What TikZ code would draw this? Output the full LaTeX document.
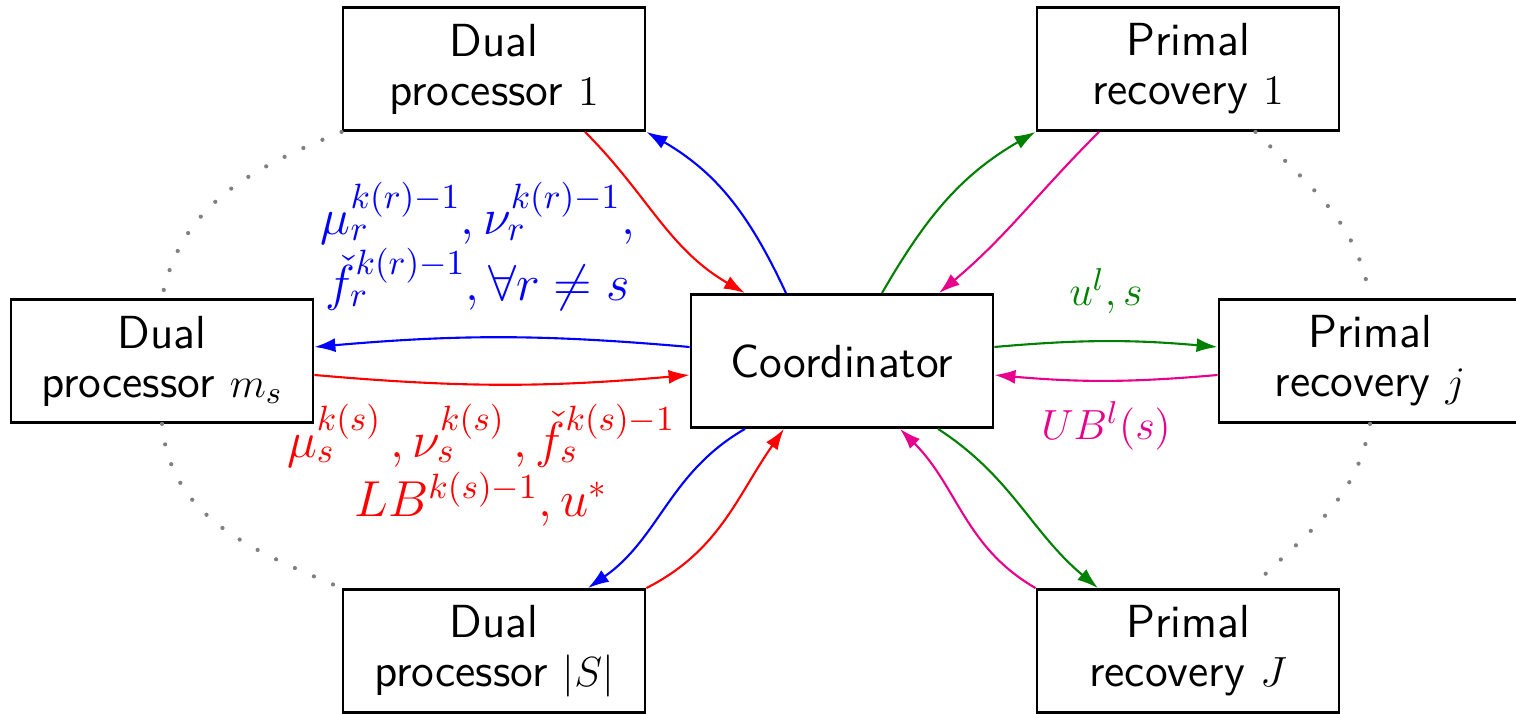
\documentclass[12pt,tikz,border=0pt]{standalone}
\usepackage{amssymb,amsmath}
\usepackage{xcolor}
\usetikzlibrary{arrows.meta}
\definecolor{msgpink}{RGB}{232,0,140}
\definecolor{msggreen}{RGB}{0,128,0}

\begin{document}
\begin{tikzpicture}[
            box/.style = {draw, thick, fill=white, align=center,
                          font=\sffamily\fontsize{13.2}{13.9}\selectfont,
                          minimum width=3.02cm, minimum height=1.23cm, inner sep=3pt},
           link/.style = {semithick, -{Latex[length=2.1mm,width=1.4mm]}},
          loose/.style = {gray, line width=1.2pt, line cap=round,
                          dash pattern=on 0pt off 5.9pt},
            msg/.style = {align=center, font=\fontsize{14.4}{17}\selectfont},
                   ]
\useasboundingbox (-8.42,-3.53) rectangle (6.74,3.61);

\node[box, minimum height=1.33cm] (coord) at ( 0.00, 0.00) {Coordinator};
\node[box]                        (dp1)   at (-3.48, 2.92) {Dual\\processor $1$};
\node[box]                        (dpm)   at (-6.80, 0.00) {Dual\\processor $m_s$};
\node[box]                        (dpS)   at (-3.48,-2.90) {Dual\\processor $|S|$};
\node[box]                        (pr1)   at ( 3.46, 2.92) {Primal\\recovery $1$};
\node[box]                        (prj)   at ( 5.28, 0.00) {Primal\\recovery $j$};
\node[box]                        (prJ)   at ( 3.46,-2.90) {Primal\\recovery $J$};

% dotted arcs between the processors
\draw[loose] (dp1.south west) to[out=202, in=79]  (dpm.north);
\draw[loose] (dpm.south)      to[out=-85, in=157] (dpS.north west);
\draw[loose] (pr1.-43)        to[out=-45, in=100] (prj.north);
\draw[loose] (prj.south)      to[out=-100, in=45] (prJ.45);

% top
\draw[link, red]      ([xshift=9.1mm]dp1.south)    to[out=-45, in=150] ([xshift=-9.7mm]coord.north);
\draw[link, blue]     ([xshift=-5.6mm]coord.north) to[out=115, in=-30] (dp1.south east);
\draw[link, msggreen] ([xshift=4mm]coord.north)    to[out=60, in=210]  (pr1.south west);
\draw[link, msgpink]  ([xshift=-8.9mm]pr1.south)   to[out=225, in=40]  ([xshift=9.7mm]coord.north);

% middle
\draw[link, blue] ([yshift=1.4mm]coord.west) to[bend right=5]
    node[msg, pos=0.57, above=1.2mm, text=blue]
        {$\mu_r^{k(r)-1}, \nu_r^{k(r)-1},$\\$\check{f}_r^{k(r)-1}, \forall r \neq s$}
    ([yshift=1.4mm]dpm.east);
\draw[link, red] ([yshift=-1.4mm]dpm.east) to[bend right=5]
    node[msg, pos=0.44, below=0.5mm, text=red]
        {$\mu_s^{k(s)}\,, \nu_s^{k(s)}\,, \check{f}_s^{k(s)-1}$\\$LB^{k(s)-1}, u^*$}
    ([yshift=-1.4mm]coord.west);
\draw[link, msggreen] ([yshift=1.4mm]coord.east) to[bend left=5]
    node[msg, midway, above=1.2mm, text=msggreen, font=\fontsize{13}{15}\selectfont] {$u^l, s$}
    ([yshift=1.4mm]prj.west);
\draw[link, msgpink] ([yshift=-1.4mm]prj.west) to[bend left=5]
    node[msg, midway, below=0.6mm, text=msgpink, font=\fontsize{13}{15}\selectfont] {$UB^l(s)$}
    ([yshift=-1.4mm]coord.east);

% bottom
\draw[link, blue]     ([xshift=-9.7mm]coord.south) to[out=210, in=35]  ([xshift=9.4mm]dpS.north);
\draw[link, red]      (dpS.north east)             to[out=27, in=235]  ([xshift=-5.8mm]coord.south);
\draw[link, msgpink]  (prJ.north west)             to[out=150, in=-45] ([xshift=5.8mm]coord.south);
\draw[link, msggreen] ([xshift=9.6mm]coord.south)  to[out=-33, in=140] ([xshift=-9mm]prJ.north);
\end{tikzpicture}
\end{document}
